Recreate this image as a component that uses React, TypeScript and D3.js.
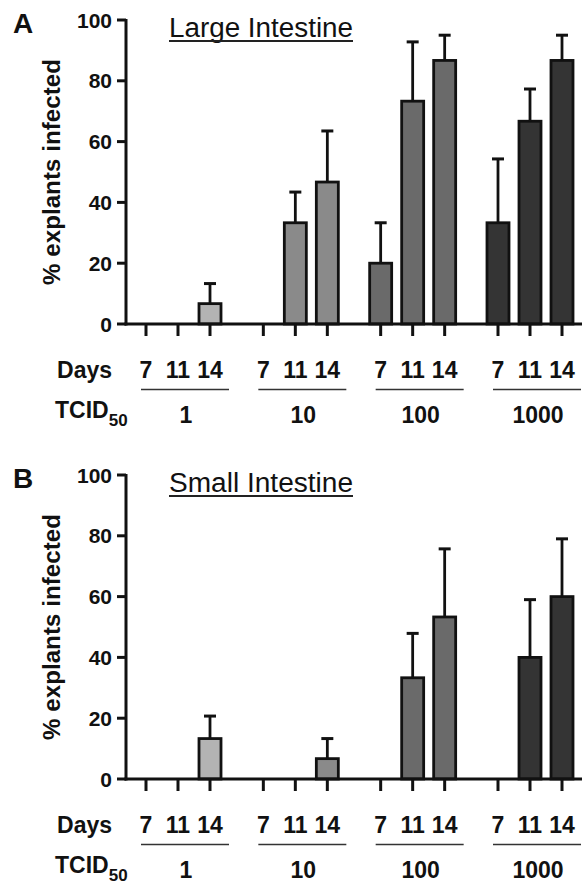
import * as d3 from "d3";

const days = ["7", "11", "14"];
const doses = ["1", "10", "100", "1000"];
const doseColors = ["#b3b3b3", "#8a8a8a", "#6a6a6a", "#343434"];
const yTicks = [0, 20, 40, 60, 80, 100];

// % explants infected, one entry per dose x day (7, 11, 14)
const largeMeans = [0, 0, 6.7, 0, 33.3, 46.7, 20, 73.3, 86.7, 33.3, 66.7, 86.7];
const largeErr = [0, 0, 6.6, 0, 10.1, 16.8, 13.3, 19.5, 8.3, 21, 10.6, 8.3];
const smallMeans = [0, 0, 13.3, 0, 0, 6.7, 0, 33.3, 53.3, 0, 40, 60];
const smallErr = [0, 0, 7.4, 0, 0, 6.6, 0, 14.6, 22.4, 0, 19, 19];

const font = "'Liberation Sans', Arial, Helvetica, sans-serif";

const doseScale = d3.scalePoint<string>().domain(doses).range([146, 498]);
const dayScale = d3.scalePoint<string>().domain(days).range([0, 64]);
const xPos = (i: number) =>
  (doseScale(doses[Math.floor(i / 3)]) as number) + (dayScale(days[i % 3]) as number);

type PanelProps = {
  letter: string;
  title: string;
  means: number[];
  errs: number[];
  y0: number;
};

function Panel({ letter, title, means, errs, y0 }: PanelProps) {
  const y = d3.scaleLinear().domain([0, 100]).range([y0, y0 - 304]);
  const axisX = 126;
  const barW = 22;

  return (
    <g fontFamily={font} fill="#111">
      <text x={13} y={y0 - 291} fontSize={28} fontWeight="bold">{letter}</text>
      <text x={169} y={y0 - 287} fontSize={27} textLength={184} lengthAdjust="spacingAndGlyphs">{title}</text>
      <line x1={169} x2={353} y1={y0 - 283} y2={y0 - 283} stroke="#222" strokeWidth={2} />

      {/* y title */}
      <text
        transform={`translate(60,${y(50)}) rotate(-90)`}
        textAnchor="middle"
        fontSize={24}
        fontWeight="bold"
        textLength={226}
        lengthAdjust="spacing"
      >
        % explants infected
      </text>

      {/* bars */}
      {means.map((v, i) => {
        if (v <= 0) return null;
        const cx = xPos(i);
        return (
          <rect
            key={"b" + i}
            x={cx - barW / 2}
            y={y(v)}
            width={barW}
            height={y0 - y(v)}
            fill={doseColors[Math.floor(i / 3)]}
            stroke="#111"
            strokeWidth={2.8}
          />
        );
      })}
      {means.map((v, i) => {
        if (v <= 0 || errs[i] <= 0) return null;
        const cx = xPos(i);
        const top = y(v + errs[i]);
        return (
          <g key={"e" + i} stroke="#111">
            <line x1={cx} x2={cx} y1={y(v)} y2={top} strokeWidth={2.8} />
            <line x1={cx - 6} x2={cx + 6} y1={top} y2={top} strokeWidth={3} />
          </g>
        );
      })}

      {/* axes */}
      <line x1={axisX} x2={axisX} y1={y(100) - 1} y2={y0 + 1.5} stroke="#111" strokeWidth={3} />
      <line x1={axisX - 1.5} x2={582} y1={y0} y2={y0} stroke="#111" strokeWidth={3} />
      {yTicks.map((t) => (
        <g key={"t" + t}>
          <line x1={axisX - 9} x2={axisX} y1={y(t)} y2={y(t)} stroke="#111" strokeWidth={3} />
          <text x={axisX - 14} y={y(t)} dy="0.36em" textAnchor="end" fontSize={21} fontWeight="bold">{t}</text>
        </g>
      ))}
      {means.map((_, i) => (
        <line key={"xt" + i} x1={xPos(i)} x2={xPos(i)} y1={y0} y2={y0 + 12} stroke="#111" strokeWidth={3} />
      ))}

      {/* Days row */}
      <text x={112} y={y0 + 54} textAnchor="end" fontSize={23} fontWeight="bold">Days</text>
      {means.map((_, i) => (
        <text key={"d" + i} x={xPos(i)} y={y0 + 54} textAnchor="middle" fontSize={23} fontWeight="bold">
          {days[i % 3]}
        </text>
      ))}
      {doses.map((d) => {
        const gx = doseScale(d) as number;
        return (
          <g key={"g" + d}>
            <line x1={gx - 5} x2={gx + 83} y1={y0 + 65.5} y2={y0 + 65.5} stroke="#333" strokeWidth={1.6} />
            <text x={gx + 40} y={y0 + 99} textAnchor="middle" fontSize={23} fontWeight="bold">{d}</text>
          </g>
        );
      })}
      <text x={55} y={y0 + 93.5} fontSize={23} fontWeight="bold">
        TCID<tspan fontSize={17} dy={8}>50</tspan>
      </text>
    </g>
  );
}

export default function App() {
  return (
    <svg
      width={582}
      height={884}
      style={{ position: "absolute", left: 0, top: 0, background: "white" }}
    >
      <Panel letter="A" title="Large Intestine" means={largeMeans} errs={largeErr} y0={324} />
      <Panel letter="B" title="Small Intestine" means={smallMeans} errs={smallErr} y0={779} />
    </svg>
  );
}
